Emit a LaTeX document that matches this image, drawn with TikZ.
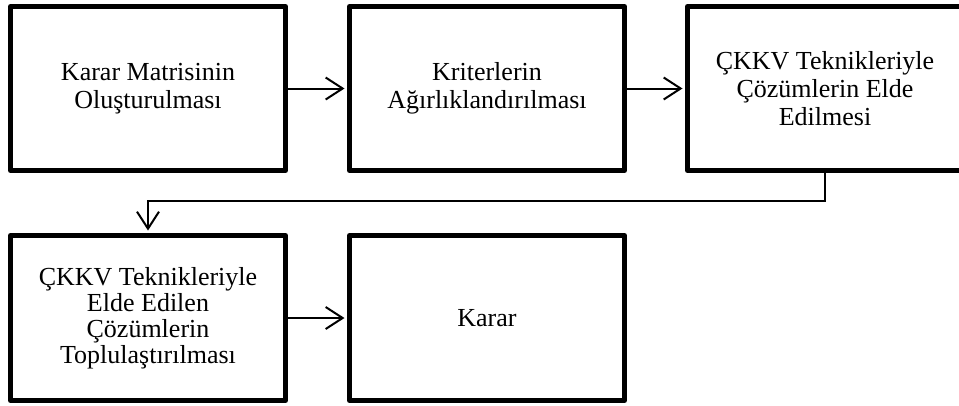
\documentclass[tikz,border=0pt]{standalone}
\usepackage{fontspec}
\setmainfont{Liberation Serif}
\usepackage{tkz-graph}
\usetikzlibrary{arrows.meta}

\begin{document}
\begin{tikzpicture}[x=1pt,y=-1pt]
\GraphInit[vstyle=Normal]
\tikzset{VertexStyle/.style={draw, rectangle, line width=5pt, line join=round, minimum width=275pt, minimum height=164pt, align=center, inner sep=0pt, font=\fontsize{26}{28}\selectfont}}
\tikzset{EdgeStyle/.style={-{Straight Barb[length=17pt,width=22pt]}, line width=2pt, shorten >=5pt}}
\useasboundingbox (0,0) rectangle (959,405);
\Vertex[x=148 ,y=88.5,L={Karar Matrisinin\\Oluşturulması}]{matris}
\Vertex[x=487 ,y=88.5,L={Kriterlerin\\Ağırlıklandırılması}]{agirlik}
\Edge(matris)(agirlik)
\Vertex[x=825 ,y=88.5,L={ÇKKV Teknikleriyle\\Çözümlerin Elde\\Edilmesi}]{cozum}
\Edge(agirlik)(cozum)
\tikzset{VertexStyle/.append style={minimum height=165pt, font=\fontsize{26}{26}\selectfont}}
\Vertex[x=148 ,y=318,L={ÇKKV Teknikleriyle\\Elde Edilen\\Çözümlerin\\Toplulaştırılması}]{toplu}
\draw[EdgeStyle] (cozum.south) -- ++(0,30) -| (toplu.north);
\Vertex[x=487 ,y=318,L={Karar}]{karar}
\Edge(toplu)(karar)
\end{tikzpicture}
\end{document}
